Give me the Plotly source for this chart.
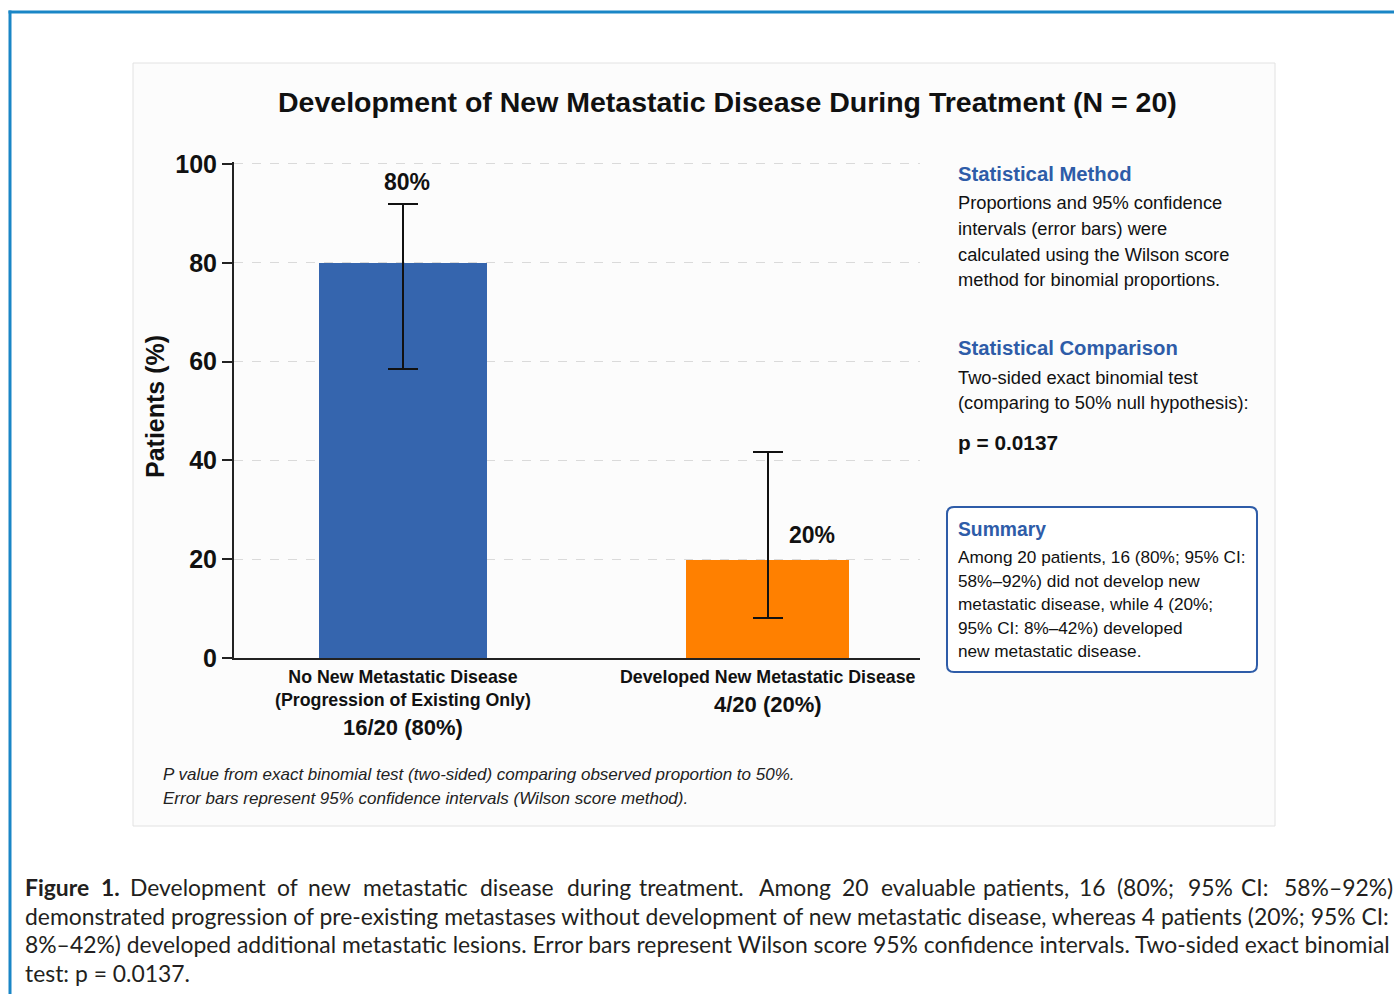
import plotly.graph_objects as go

# ---- data ----
categories = ["No New Metastatic Disease<br>(Progression of Existing Only)",
              "Developed New Metastatic Disease"]
counts = [16, 4]
total = 20
percent = [80, 20]
ci_low = [58.4, 8.1]
ci_high = [91.9, 41.6]
y_ticks = [0, 20, 40, 60, 80, 100]
p_value = 0.0137
bar_colors = ["#3565ae", "#ff8000"]

W, H = 1394, 994
FONT = "Liberation Sans, Arial, Helvetica, sans-serif"
CAP_FONT = "Lato, Open Sans, sans-serif"
BLUE = "#2e5ca8"
INK = "#111111"


def px(x):
    return x / W


def py(y):
    return 1 - y / H


fig = go.Figure()

fig.add_trace(go.Bar(
    x=categories,
    y=percent,
    width=[0.461, 0.447],
    marker=dict(color=bar_colors, line=dict(width=0)),
    error_y=dict(
        type="data", symmetric=False,
        array=[h - v for h, v in zip(ci_high, percent)],
        arrayminus=[v - l for v, l in zip(percent, ci_low)],
        color="#111111", thickness=2, width=15,
    ),
    hoverinfo="skip",
    showlegend=False,
))

annotations = []


def text(x, y, s, size, color=INK, bold=False, italic=False, family=FONT,
         xanchor="left", **kw):
    annotations.append(dict(
        x=x, y=y, xref=kw.pop("xref", "paper"), yref=kw.pop("yref", "paper"),
        text=s, showarrow=False, xanchor=xanchor, yanchor=kw.pop("yanchor", "middle"),
        font=dict(family=family, size=size, color=color,
                  weight="bold" if bold else "normal",
                  style="italic" if italic else "normal"),
        align=kw.pop("align", "left"), **kw))


# title
text(px(727), py(102), "Development of New Metastatic Disease During Treatment (N = %d)" % total,
     28.5, bold=True, xanchor="center")

# y-axis title
text(px(155), py(407), "Patients (%)", 25, bold=True, xanchor="center", textangle=-90)

# value labels
text(categories[0], ci_high[0], "%d%%" % percent[0], 23, bold=True, xanchor="center",
     xref="x", yref="y", xshift=4, yshift=22)
text(categories[1], percent[1], "%d%%" % percent[1], 23, bold=True, xanchor="center",
     xref="x", yref="y", xshift=44, yshift=24)

# category labels with counts beneath
for cat, n, pct in zip(categories, counts, percent):
    nlines = cat.count("<br>") + 1
    text(cat, py(665), cat, 17.8, bold=True, xanchor="center", xref="x",
         yanchor="top", align="center")
    text(cat, py(677 + 23 * (nlines - 1) + 27), "%d/%d (%d%%)" % (n, total, pct), 22,
         bold=True, xanchor="center", xref="x")

# footnotes
text(px(161), py(774), "P value from exact binomial test (two-sided) comparing observed proportion to 50%.",
     17, color="#222222", italic=True)
text(px(161), py(798), "Error bars represent 95% confidence intervals (Wilson score method).",
     17, color="#222222", italic=True)

# side panel: method
SX = px(956)
text(SX, py(174), "Statistical Method", 20.3, color=BLUE, bold=True)
method_lines = ["Proportions and 95% confidence", "intervals (error bars) were",
                "calculated using the Wilson score", "method for binomial proportions."]
for i, line in enumerate(method_lines):
    text(SX, py(203 + 25.6 * i), line, 18.3)

# side panel: comparison
text(SX, py(348), "Statistical Comparison", 20.3, color=BLUE, bold=True)
comp_lines = ["Two-sided exact binomial test", "(comparing to 50% null hypothesis):"]
for i, line in enumerate(comp_lines):
    text(SX, py(377 + 25.6 * i), line, 18.3)
text(SX, py(442), "p = %.4f" % p_value, 20.8, bold=True)

# summary box
text(SX, py(529), "Summary", 19.3, color=BLUE, bold=True)
summary_lines = [
    "Among %d patients, %d (%d%%; 95%% CI:" % (total, counts[0], percent[0]),
    "%.0f%%–%.0f%%) did not develop new" % (ci_low[0], ci_high[0]),
    "metastatic disease, while %d (%d%%;" % (counts[1], percent[1]),
    "95%% CI: %.0f%%–%.0f%%) developed" % (ci_low[1], ci_high[1]),
    "new metastatic disease.",
]
for i, line in enumerate(summary_lines):
    text(SX, py(557 + 23.5 * i), line, 17.2)

# figure caption: first line is justified word by word
cap_color = "#231f20"
CAP_SIZE = 22.9
first_words = ["<b>Figure</b>", "<b>1.</b>", "Development", "of", "new", "metastatic", "disease",
               "during", "treatment.", "Among", "%d" % total, "evaluable", "patients,",
               "%d" % counts[0], "(%d%%;" % percent[0], "95%", "CI:",
               "%.0f%%–%.0f%%)" % (ci_low[0], ci_high[0])]
# rendered word widths (px) at CAP_SIZE, spread with an even gap across the line
word_widths = [63, 17, 134, 19, 42, 105, 74, 60, 107, 71, 26, 90, 83, 26, 58, 41, 30, 107]
gap = (1366 - sum(word_widths)) / (len(word_widths) - 1)
cursor = 25.0
for w, ww in zip(first_words, word_widths):
    text(px(cursor - 2), py(887), w, CAP_SIZE, color=cap_color, family=CAP_FONT)
    cursor += ww + gap

caption_lines = [
    "demonstrated progression of pre-existing metastases without development of new metastatic "
    "disease, whereas %d patients (%d%%; 95%% CI:" % (counts[1], percent[1]),
    "%.0f%%–%.0f%%) developed additional metastatic lesions. Error bars represent Wilson score 95%% "
    "confidence intervals. Two-sided exact binomial" % (ci_low[1], ci_high[1]),
    "test: p = %.4f." % p_value,
]
for line, yy in zip(caption_lines, [916, 944, 973]):
    text(px(23), py(yy), line, CAP_SIZE, color=cap_color, family=CAP_FONT)

# frame, panel and rounded summary box
r = 7
bx0, bx1, by0, by1 = 947, 1257, 507, 672


def P(x, y):
    return "%.6f,%.6f" % (px(x), py(y))


box_path = ("M " + P(bx0 + r, by0) + " L " + P(bx1 - r, by0) + " Q " + P(bx1, by0) + " " + P(bx1, by0 + r)
            + " L " + P(bx1, by1 - r) + " Q " + P(bx1, by1) + " " + P(bx1 - r, by1)
            + " L " + P(bx0 + r, by1) + " Q " + P(bx0, by1) + " " + P(bx0, by1 - r)
            + " L " + P(bx0, by0 + r) + " Q " + P(bx0, by0) + " " + P(bx0 + r, by0) + " Z")

shapes = [
    dict(type="rect", xref="paper", yref="paper", x0=px(133), x1=px(1275), y0=py(826), y1=py(63),
         line=dict(color="#e2e2e2", width=1), fillcolor="#fcfcfc", layer="below"),
    dict(type="line", xref="paper", yref="paper", x0=px(10), x1=px(10), y0=py(10.5), y1=py(1000),
         line=dict(color="#1a86c6", width=3)),
    dict(type="line", xref="paper", yref="paper", x0=px(8.5), x1=px(1400), y0=py(12), y1=py(12),
         line=dict(color="#1a86c6", width=3)),
    dict(type="path", xref="paper", yref="paper", path=box_path,
         line=dict(color=BLUE, width=2), fillcolor="#ffffff", layer="below"),
]

fig.update_layout(
    width=W, height=H,
    margin=dict(l=0, r=0, t=0, b=0, autoexpand=False),
    paper_bgcolor="#ffffff",
    plot_bgcolor="rgba(0,0,0,0)",
    font=dict(family=FONT, color=INK),
    xaxis=dict(
        domain=[px(234), px(920)],
        range=[-0.4636, 1.418],
        showticklabels=False, ticks="",
        showline=True, linecolor="#222222", linewidth=2,
        showgrid=False, zeroline=False, fixedrange=True, automargin=False,
    ),
    yaxis=dict(
        domain=[py(658), py(161.5)],
        range=[0, 100.5],
        tickvals=y_ticks,
        ticks="outside", ticklen=10, tickwidth=2, tickcolor="#222222",
        tickfont=dict(family=FONT, size=25, color=INK, weight="bold"),
        showline=True, linecolor="#222222", linewidth=2,
        showgrid=True, gridcolor="#dadada", gridwidth=1, griddash="dash",
        zeroline=False, fixedrange=True, automargin=False,
    ),
    shapes=shapes,
    annotations=annotations,
    bargap=0,
)

fig.write_html("out.html")
